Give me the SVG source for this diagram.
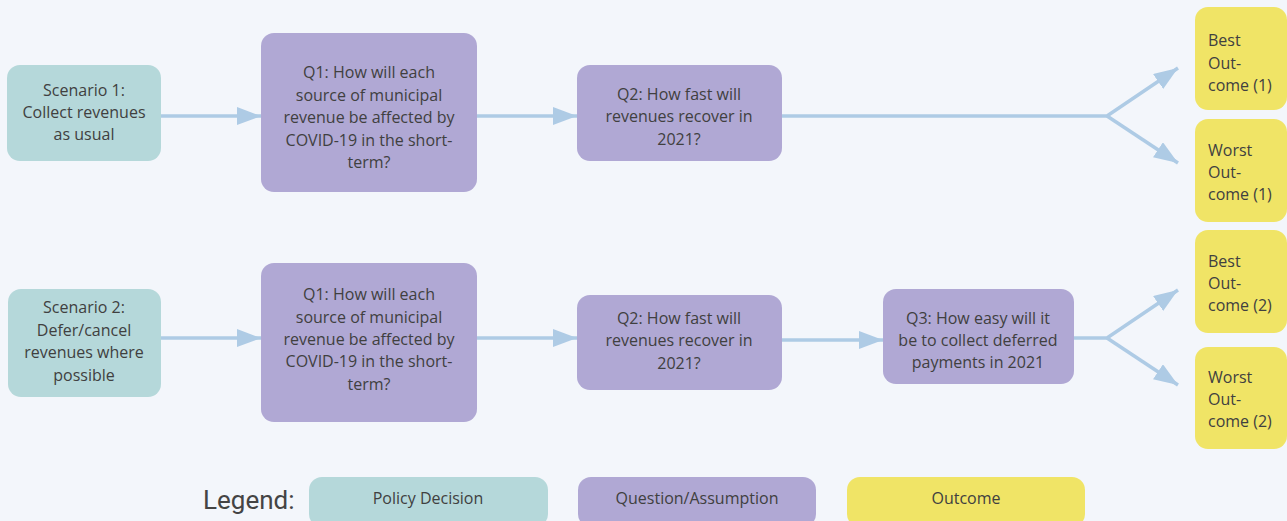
<svg xmlns="http://www.w3.org/2000/svg" width="1287" height="521" viewBox="0 0 1287 521">
<defs>
<style>
.pol{fill:#b5d8da}
.q{fill:#b0a8d4}
.out{fill:#f0e466}
.t{font-family:"Open Sans","Noto Sans",sans-serif;font-size:16px;fill:#404040;text-anchor:middle}
.tl{font-family:"Open Sans","Noto Sans",sans-serif;font-size:16px;fill:#404040;text-anchor:start}
.c{fill:none;stroke:#aecbe5;stroke-width:3.5}
</style>
<marker id="ah" markerUnits="userSpaceOnUse" markerWidth="26" markerHeight="20" refX="24" refY="9" orient="auto">
<path d="M0,0 L24,9 L0,18 Z" fill="#aecbe5"/>
</marker>
</defs>
<rect width="1287" height="521" fill="#f3f6fb"/>
<g id="connectors">
<line class="c" x1="161" y1="116" x2="261" y2="116" marker-end="url(#ah)"/>
<line class="c" x1="477" y1="116" x2="577" y2="116" marker-end="url(#ah)"/>
<polyline class="c" points="782,116 1107,116 1178,68" marker-end="url(#ah)"/>
<line class="c" x1="1107" y1="116" x2="1178" y2="163" marker-end="url(#ah)"/>
<line class="c" x1="161" y1="338" x2="261" y2="338" marker-end="url(#ah)"/>
<line class="c" x1="477" y1="338" x2="577" y2="338" marker-end="url(#ah)"/>
<line class="c" x1="782" y1="340" x2="883" y2="340" marker-end="url(#ah)"/>
<polyline class="c" points="1074,338 1107,338 1178,290" marker-end="url(#ah)"/>
<line class="c" x1="1107" y1="338" x2="1178" y2="385" marker-end="url(#ah)"/>
</g>
<g id="scenario1">
<rect class="pol" x="7" y="65" width="154" height="96" rx="13"/>
<text class="t" x="84" y="96">Scenario 1:</text>
<text class="t" x="84" y="118">Collect revenues</text>
<text class="t" x="84" y="140">as usual</text>
</g>
<g id="q1a">
<rect class="q" x="261" y="33" width="216" height="159" rx="13"/>
<text class="t" x="369" y="78">Q1: How will each</text>
<text class="t" x="369" y="101">source of municipal</text>
<text class="t" x="369" y="123">revenue be affected by</text>
<text class="t" x="369" y="146">COVID-19 in the short-</text>
<text class="t" x="369" y="168">term?</text>
</g>
<g id="q2a">
<rect class="q" x="577" y="65" width="205" height="96" rx="13"/>
<text class="t" x="679" y="100">Q2: How fast will</text>
<text class="t" x="679" y="122">revenues recover in</text>
<text class="t" x="679" y="145">2021?</text>
</g>
<g id="best1">
<rect class="out" x="1195" y="7" width="92" height="103" rx="13"/>
<text class="tl" x="1208" y="46">Best</text>
<text class="tl" x="1208" y="69">Out-</text>
<text class="tl" x="1208" y="91">come (1)</text>
</g>
<g id="worst1">
<rect class="out" x="1195" y="119" width="92" height="103" rx="13"/>
<text class="tl" x="1208" y="156">Worst</text>
<text class="tl" x="1208" y="178">Out-</text>
<text class="tl" x="1208" y="200">come (1)</text>
</g>
<g id="scenario2">
<rect class="pol" x="8" y="289" width="153" height="108" rx="13"/>
<text class="t" x="84" y="313">Scenario 2:</text>
<text class="t" x="84" y="336">Defer/cancel</text>
<text class="t" x="84" y="358">revenues where</text>
<text class="t" x="84" y="381">possible</text>
</g>
<g id="q1b">
<rect class="q" x="261" y="263" width="216" height="159" rx="13"/>
<text class="t" x="369" y="300">Q1: How will each</text>
<text class="t" x="369" y="323">source of municipal</text>
<text class="t" x="369" y="345">revenue be affected by</text>
<text class="t" x="369" y="367">COVID-19 in the short-</text>
<text class="t" x="369" y="390">term?</text>
</g>
<g id="q2b">
<rect class="q" x="577" y="295" width="205" height="95" rx="13"/>
<text class="t" x="679" y="324">Q2: How fast will</text>
<text class="t" x="679" y="346">revenues recover in</text>
<text class="t" x="679" y="369">2021?</text>
</g>
<g id="q3">
<rect class="q" x="883" y="289" width="191" height="95" rx="13"/>
<text class="t" x="978" y="324">Q3: How easy will it</text>
<text class="t" x="978" y="346">be to collect deferred</text>
<text class="t" x="978" y="368">payments in 2021</text>
</g>
<g id="best2">
<rect class="out" x="1195" y="230" width="92" height="103" rx="13"/>
<text class="tl" x="1208" y="267">Best</text>
<text class="tl" x="1208" y="289">Out-</text>
<text class="tl" x="1208" y="311">come (2)</text>
</g>
<g id="worst2">
<rect class="out" x="1195" y="347" width="92" height="102" rx="13"/>
<text class="tl" x="1208" y="383">Worst</text>
<text class="tl" x="1208" y="405">Out-</text>
<text class="tl" x="1208" y="427">come (2)</text>
</g>
<g id="legend">
<text x="203" y="509" font-family="Roboto,'Liberation Sans',sans-serif" font-size="26" fill="#444">Legend:</text>
<rect class="pol" x="309" y="477" width="239" height="50" rx="13"/>
<text class="t" x="428" y="504">Policy Decision</text>
<rect class="q" x="578" y="477" width="238" height="50" rx="13"/>
<text class="t" x="697" y="504">Question/Assumption</text>
<rect class="out" x="847" y="477" width="238" height="50" rx="13"/>
<text class="t" x="966" y="504">Outcome</text>
</g>
</svg>
